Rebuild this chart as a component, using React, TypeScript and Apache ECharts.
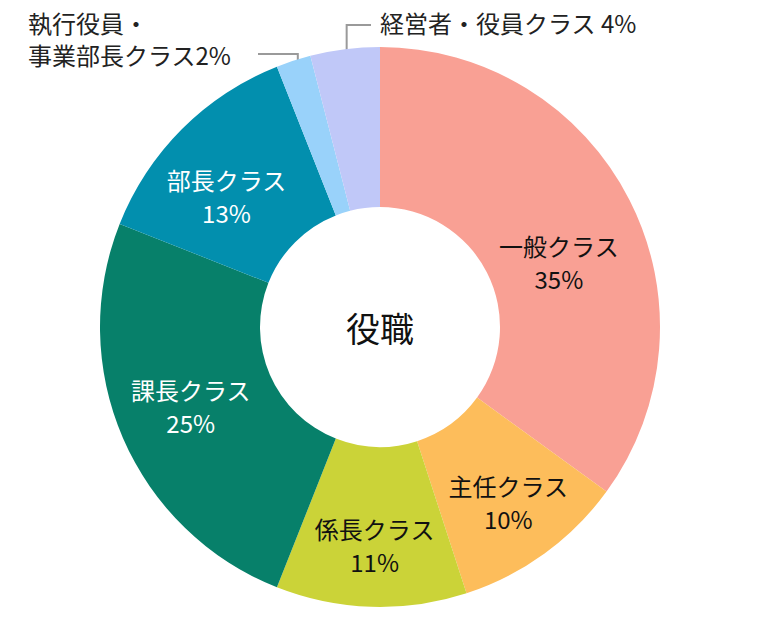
import { useEffect, useRef } from 'react'
import * as echarts from 'echarts'

const categories = [
  '一般クラス',
  '主任クラス',
  '係長クラス',
  '課長クラス',
  '部長クラス',
  '執行役員・事業部長クラス',
  '経営者・役員クラス',
]
const shares = [35, 10, 11, 25, 13, 2, 4]
const sliceColors = ['#f9a094', '#fdbd5b', '#cbd338', '#07806a', '#028fae', '#99d2fa', '#c0c8f8']
const textColors = ['#111', '#111', '#111', '#fff', '#fff', '#222', '#222']
const centerTitle = '役職'

const FONT = '"Noto Sans CJK JP", "Noto Sans", sans-serif'
const CX = 380
const CY = 327
const R_IN = 120
const R_OUT = 280
// small nudges for the inside labels, [dx, dy]
const insideNudge = [[-2, 27], [9, 11], [1, 15], [-3, -2], [-10, 13]]
// placement of the two small slices' labels, drawn outside with a leader line
const outsideLabels: Record<number, { x: number; y: number; lineY: number; lineEnd: number; text: (n: string, v: number) => string }> = {
  5: { x: 28, y: 38, lineY: 54, lineEnd: 258, text: (n, v) => `${n.replace('・', '・\n')}${v}%` },
  6: { x: 380, y: 22, lineY: 25, lineEnd: 371, text: (n, v) => `${n} ${v}%` },
}

export default function App() {
  const ref = useRef<HTMLDivElement>(null)

  useEffect(() => {
    if (!ref.current) {
      return
    }
    const chart = echarts.init(ref.current, undefined, { renderer: 'svg' })
    const total = shares.reduce((a, b) => a + b, 0)

    const data = categories.map((name, i) => {
      const outside = outsideLabels[i] != null
      return {
        name,
        value: shares[i],
        itemStyle: { color: sliceColors[i] },
        label: {
          position: outside ? 'outside' : 'inside',
          color: textColors[i],
          lineHeight: outside ? 32 : 33,
        },
        labelLine: { show: outside },
      }
    })

    chart.setOption({
      animation: false,
      graphic: [
        {
          type: 'text',
          x: CX,
          y: CY,
          style: {
            text: centerTitle,
            align: 'center',
            verticalAlign: 'middle',
            textAlign: 'center',
            textVerticalAlign: 'middle',
            fontSize: 34,
            fontWeight: 'normal',
            fontFamily: FONT,
            fill: '#111',
          },
        },
      ],
      series: [
        {
          type: 'pie',
          center: [CX, CY],
          radius: [R_IN, R_OUT],
          startAngle: 90,
          clockwise: true,
          avoidLabelOverlap: false,
          itemStyle: { borderWidth: 0 },
          emphasis: { disabled: true },
          label: {
            fontSize: 24,
            fontFamily: FONT,
            formatter: (p: any) => {
              const out = outsideLabels[p.dataIndex]
              return out ? out.text(p.name, p.value) : `${p.name}\n${p.value}%`
            },
          },
          labelLine: {
            smooth: false,
            length: 10,
            length2: 10,
            lineStyle: { color: '#9a9a9a', width: 2 },
          },
          labelLayout: (p: any) => {
            const i = p.dataIndex
            const out = outsideLabels[i]
            if (!out) {
              const [dx, dy] = insideNudge[i]
              return { dx, dy }
            }
            const before = shares.slice(0, i).reduce((a, b) => a + b, 0)
            const mid = ((before + shares[i] / 2) / total) * Math.PI * 2
            const sx = CX + 266 * Math.sin(mid)
            const sy = CY - 266 * Math.cos(mid)
            return {
              x: out.x,
              y: out.y,
              align: 'left',
              verticalAlign: 'middle',
              labelLinePoints: [
                [sx, sy],
                [sx, out.lineY],
                [out.lineEnd, out.lineY],
              ],
            }
          },
          data,
        },
      ],
    })

    return () => {
      chart.dispose()
    }
  }, [])

  return (
    <div
      ref={ref}
      style={{ position: 'absolute', left: 0, top: 0, width: 760, height: 620 }}
    />
  )
}
